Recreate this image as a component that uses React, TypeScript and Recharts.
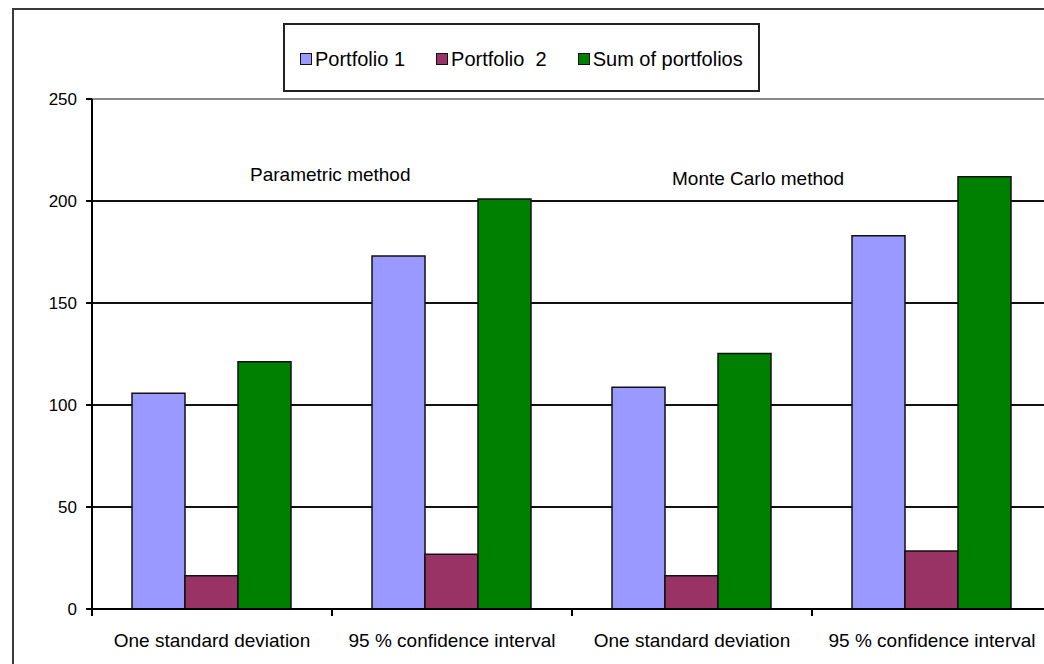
import React from "react";
import {
  BarChart,
  Bar,
  XAxis,
  YAxis,
  CartesianGrid,
  Legend,
  ReferenceLine,
  Customized,
} from "recharts";

// ---- data ----
const categories = [
  "One standard deviation",
  "95 % confidence interval",
  "One standard deviation",
  "95 % confidence interval",
];
const portfolio1 = [105.7, 173.0, 108.7, 183.0];
const portfolio2 = [16.3, 26.8, 16.3, 28.4];
const sumOfPortfolios = [121.2, 201.0, 125.3, 211.9];
const yTicks = [0, 50, 100, 150, 200, 250];
const seriesNames = ["Portfolio 1", "Portfolio  2", "Sum of portfolios"];
const methodLabels = ["Parametric method", "Monte Carlo method"];

const data = categories.map((c, i) => ({
  idx: i,
  name: c,
  p1: portfolio1[i],
  p2: portfolio2[i],
  sum: sumOfPortfolios[i],
}));

// ---- style ----
const FONT = "'Liberation Sans', Arial, Helvetica, sans-serif";
const COLORS = ["#9999FF", "#993366", "#008000"];
const X_TICK_SIZE = 7;
const X_TICK_MARGIN = 18;

const XTick = (props: any) => {
  const { x, y, payload } = props;
  const half =
    payload && typeof payload.offset === "number" && payload.offset > 0
      ? payload.offset
      : 120;
  const axisY = y - X_TICK_SIZE - X_TICK_MARGIN;
  return (
    <g>
      <line
        x1={x - half}
        x2={x - half}
        y1={axisY}
        y2={axisY + X_TICK_SIZE}
        stroke="#000"
        strokeWidth={2}
      />
      <text
        x={x}
        y={y}
        dy="0.71em"
        textAnchor="middle"
        fontFamily={FONT}
        fontSize={19}
        fill="#000"
      >
        {categories[payload.value]}
      </text>
    </g>
  );
};

const LegendBox = (props: any) => {
  const payload = [...(props.payload || [])].sort(
    (a: any, b: any) => seriesNames.indexOf(a.value) - seriesNames.indexOf(b.value)
  );
  return (
    <div
      style={{
        boxSizing: "border-box",
        width: "100%",
        height: "100%",
        border: "2px solid #222",
        background: "#fff",
        display: "flex",
        alignItems: "center",
        paddingLeft: 15,
        paddingTop: 3,
        fontFamily: FONT,
        fontSize: 20,
        color: "#000",
        whiteSpace: "pre",
      }}
    >
      {payload.map((p: any, i: number) => (
        <div
          key={i}
          style={{ display: "flex", alignItems: "center", marginRight: 31 }}
        >
          <span
            style={{
              display: "inline-block",
              width: 10,
              height: 10,
              border: "1px solid #111",
              background: p.color,
              marginRight: 3,
            }}
          />
          <span>{p.value}</span>
        </div>
      ))}
    </div>
  );
};

const MethodLabels = () => (
  <g>
    <text x={250} y={181} fontFamily={FONT} fontSize={19} fill="#000">
      {methodLabels[0]}
    </text>
    <text x={672} y={185} fontFamily={FONT} fontSize={19} fill="#000">
      {methodLabels[1]}
    </text>
  </g>
);

export default function App() {
  return (
    <div
      style={{
        position: "fixed",
        left: 0,
        top: 0,
        width: 1044,
        height: 664,
        overflow: "hidden",
        background: "#fff",
      }}
    >
      <div
        style={{
          position: "absolute",
          left: 12,
          top: 8,
          width: 1100,
          height: 700,
          border: "2px solid #3a3a3a",
          boxSizing: "border-box",
        }}
      />
      <div style={{ position: "absolute", left: 0, top: 0 }}>
        <BarChart
          width={1100}
          height={700}
          data={data}
          margin={{ top: 99, left: 32, right: 48, bottom: 31 }}
          barCategoryGap={40}
          barGap={0}
        >
          <CartesianGrid
            vertical={false}
            stroke="#111"
            strokeWidth={2}
            strokeDasharray=""
          />
          <ReferenceLine y={250} stroke="#8a8a8a" strokeWidth={2} />
          <XAxis
            dataKey="idx"
            type="category"
            height={60}
            tickSize={X_TICK_SIZE}
            tickMargin={X_TICK_MARGIN}
            tickLine={false}
            axisLine={{ stroke: "#000", strokeWidth: 2 }}
            tick={<XTick />}
            interval={0}
          />
          <YAxis
            width={60}
            domain={[0, 250]}
            ticks={yTicks}
            interval={0}
            tickSize={6}
            tickMargin={9}
            axisLine={{ stroke: "#000", strokeWidth: 2 }}
            tickLine={{ stroke: "#000", strokeWidth: 2 }}
            tick={{ fill: "#000", fontSize: 17, fontFamily: FONT }}
          />
          <Legend
            layout="horizontal"
            verticalAlign="middle"
            align="center"
            content={<LegendBox />}
            wrapperStyle={{ left: 283, top: 23, width: 477, height: 69 }}
          />
          <Bar
            dataKey="p1"
            name={seriesNames[0]}
            fill={COLORS[0]}
            stroke="#111"
            strokeWidth={1.5}
            isAnimationActive={false}
          />
          <Bar
            dataKey="p2"
            name={seriesNames[1]}
            fill={COLORS[1]}
            stroke="#111"
            strokeWidth={1.5}
            isAnimationActive={false}
          />
          <Bar
            dataKey="sum"
            name={seriesNames[2]}
            fill={COLORS[2]}
            stroke="#111"
            strokeWidth={1.5}
            isAnimationActive={false}
          />
          <Customized component={MethodLabels} />
        </BarChart>
      </div>
    </div>
  );
}
